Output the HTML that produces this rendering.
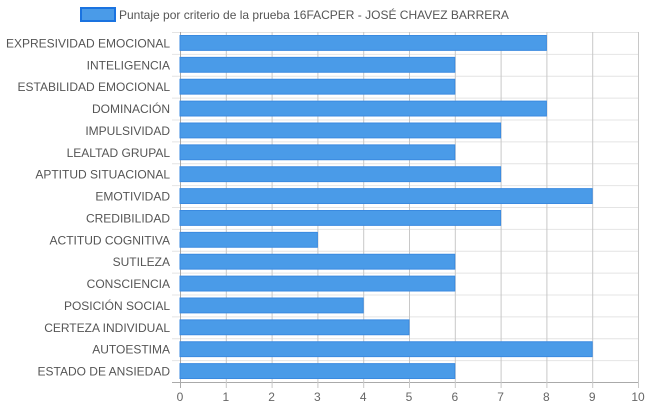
<!DOCTYPE html>
<html><head><meta charset="utf-8"><style>
body{margin:0;background:#fff;font-family:"Liberation Sans",sans-serif}
</style></head><body>
<svg id="c" width="648" height="410" xmlns="http://www.w3.org/2000/svg" font-family="Liberation Sans, sans-serif"></svg>
<script>
const categories=["EXPRESIVIDAD EMOCIONAL","INTELIGENCIA","ESTABILIDAD EMOCIONAL","DOMINACIÓN","IMPULSIVIDAD","LEALTAD GRUPAL","APTITUD SITUACIONAL","EMOTIVIDAD","CREDIBILIDAD","ACTITUD COGNITIVA","SUTILEZA","CONSCIENCIA","POSICIÓN SOCIAL","CERTEZA INDIVIDUAL","AUTOESTIMA","ESTADO DE ANSIEDAD"];
const values=[8,6,6,8,7,6,7,9,7,3,6,6,4,5,9,6];
const ticks=[0,1,2,3,4,5,6,7,8,9,10];
const seriesLabel="Puntaje por criterio de la prueba 16FACPER - JOSÉ CHAVEZ BARRERA";
const svg=document.getElementById('c');const NS="http://www.w3.org/2000/svg";
const L=180,R=638,T=32,B=382;
const x=v=>L+(v-0)/(10-0)*(R-L);
const rh=(B-T)/categories.length;
const y=i=>T+i*rh;
function mk(t,a,p){const e=document.createElementNS(NS,t);for(const k in a)e.setAttribute(k,a[k]);(p||svg).appendChild(e);return e;}
// horizontal grid
for(let i=0;i<=categories.length;i++){const l=mk('line',{x1:L-8,x2:R,y1:y(i)+0.5,y2:y(i)+0.5,stroke:i==categories.length?'#aaa':'#e4e4e4'});

}
ticks.forEach(t=>{const l=mk('line',{x1:x(t)+0.5,x2:x(t)+0.5,y1:T,y2:B+6,stroke:t==0?'#aaa':'#c8c8c8'});


const tx=mk('text',{x:x(t),y:B+19,'text-anchor':'middle','font-size':12,fill:'#666'});tx.textContent=t;

});
categories.forEach((c,i)=>{
const r=mk('rect',{x:x(0),y:y(i)+3.5,width:x(values[i])-x(0),height:rh-7,fill:'#4a9be8',stroke:'#3a8ae0','stroke-width':1});


const t=mk('text',{x:L-10,y:y(i)+rh/2+4.5,'text-anchor':'end','font-size':12,fill:'#555'});t.textContent=c;

});
const lb=mk('rect',{x:81,y:8,width:34,height:13,fill:'#4a9be8',stroke:'#1a73e0','stroke-width':2});


const lt=mk('text',{x:119,y:19,'font-size':12,fill:'#555'});lt.textContent=seriesLabel;


</script>
</body></html>
